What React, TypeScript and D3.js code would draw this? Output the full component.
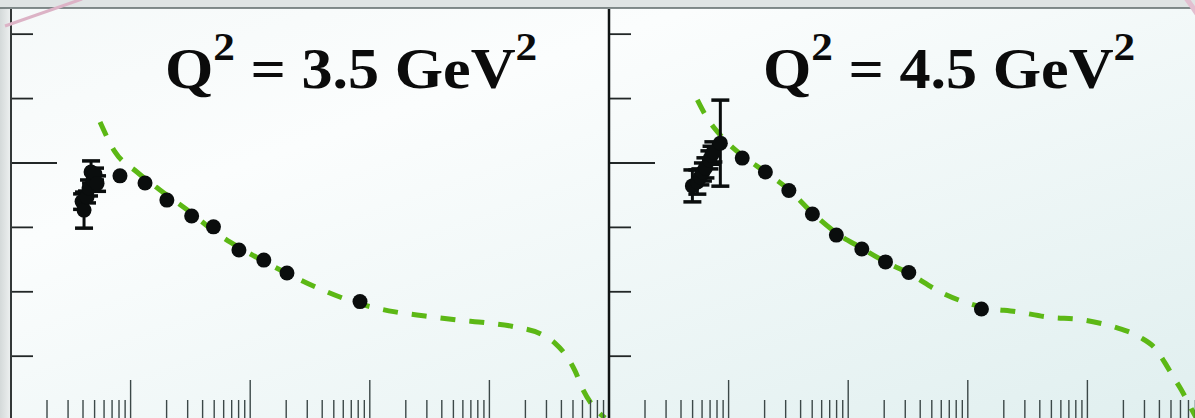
import React, { useEffect, useRef } from "react";
import { select, scaleLog, scaleLinear, line, curveMonotoneX } from "d3";

const WIDTH = 1195;
const HEIGHT = 418;

const q2Labels = ["3.5", "4.5"];
const yTicks = [0.25, 0.5, 0.75, 1.0, 1.25, 1.5];
const yMajorTicks = [1.0];

// Q2 = 3.5 GeV2 measurements
const xData35 = [3.93e-5, 4.08e-5, 4.32e-5, 4.49e-5, 4.67e-5, 4.85e-5, 5.04e-5, 5.24e-5, 8.15e-5, 1.32e-4, 2.01e-4, 3.24e-4, 4.93e-4, 8.05e-4, 1.3e-3, 2.03e-3, 8.28e-3];
const f2Data35 = [0.85, 0.817, 0.868, 0.903, 0.965, 0.934, 0.957, 0.92, 0.95, 0.922, 0.856, 0.794, 0.752, 0.662, 0.623, 0.573, 0.462];
const errData35 = [0.03, 0.07, 0.023, 0.031, 0.043, 0.027, 0.023, 0.03, 0, 0, 0, 0, 0, 0, 0, 0, 0];

// Q2 = 4.5 GeV2 measurements
const xData45 = [4.98e-5, 5.48e-5, 5.81e-5, 6.1e-5, 6.4e-5, 6.91e-5, 7.2e-5, 7.46e-5, 8.53e-5, 1.3e-4, 2.03e-4, 3.19e-4, 5.02e-4, 7.96e-4, 1.3e-3, 2.05e-3, 3.21e-3, 1.3e-2];
const f2Data45 = [0.911, 0.926, 0.946, 0.965, 0.981, 1.012, 1.03, 1.043, 1.077, 1.019, 0.965, 0.893, 0.802, 0.72, 0.666, 0.616, 0.575, 0.433];
const errData45 = [0.062, 0.047, 0.031, 0.035, 0.039, 0.035, 0.035, 0.039, 0.167, 0, 0, 0, 0, 0, 0, 0, 0, 0];

// fit curves
const xCurve35 = [5.55e-5, 7.41e-5, 1.13e-4, 1.76e-4, 3.14e-4, 5.08e-4, 8.22e-4, 1.33e-3, 2.15e-3, 3.84e-3, 8.28e-3, 0.0163, 0.029, 0.0526, 0.0973, 0.167, 0.281, 0.353, 0.446, 0.52, 0.607, 0.735, 0.927];
const f2Curve35 = [1.159, 1.043, 0.965, 0.895, 0.81, 0.732, 0.67, 0.616, 0.566, 0.511, 0.453, 0.422, 0.406, 0.391, 0.379, 0.363, 0.332, 0.301, 0.247, 0.193, 0.119, 0.057, 0.01];
const xCurve45 = [5.48e-5, 6.4e-5, 8.53e-5, 1.28e-4, 2.03e-4, 3.22e-4, 5.02e-4, 7.98e-4, 1.29e-3, 2.05e-3, 3.18e-3, 5.9e-3, 1.3e-2, 0.026, 0.0472, 0.091, 0.168, 0.272, 0.378, 0.441, 0.524, 0.611, 0.726, 0.832];
const f2Curve45 = [1.245, 1.186, 1.108, 1.031, 0.965, 0.895, 0.806, 0.728, 0.67, 0.616, 0.573, 0.499, 0.441, 0.422, 0.402, 0.391, 0.363, 0.325, 0.274, 0.227, 0.169, 0.119, 0.053, 0.002];

const panels = [
  { label: q2Labels[0], xs: xData35, ys: f2Data35, errs: errData35, cx: xCurve35, cy: f2Curve35 },
  { label: q2Labels[1], xs: xData45, ys: f2Data45, errs: errData45, cx: xCurve45, cy: f2Curve45 },
];

const App = () => {
  const svgRef = useRef();

  useEffect(() => {
    const svg = select(svgRef.current);
    svg.selectAll("*").remove();

    const defs = svg.append("defs");
    const grad = defs
      .append("linearGradient")
      .attr("id", "bg")
      .attr("x1", "0")
      .attr("y1", "0")
      .attr("x2", "1")
      .attr("y2", "1");
    grad.append("stop").attr("offset", "0").attr("stop-color", "#f5f9f9");
    grad.append("stop").attr("offset", "0.3").attr("stop-color", "#fbfdfd");
    grad.append("stop").attr("offset", "1").attr("stop-color", "#e0efef");

    const side = defs.append("linearGradient").attr("id", "side");
    side.append("stop").attr("offset", "0").attr("stop-color", "#d4d9d9");
    side.append("stop").attr("offset", "1").attr("stop-color", "#eef1f1");

    // page background
    svg.append("rect").attr("width", WIDTH).attr("height", HEIGHT).attr("fill", "url(#bg)");
    svg.append("rect").attr("width", 11).attr("height", HEIGHT).attr("fill", "url(#side)");
    svg.append("rect").attr("width", WIDTH).attr("height", 8).attr("fill", "#dfe4e4");
    svg
      .append("line")
      .attr("x1", 0)
      .attr("x2", WIDTH)
      .attr("y1", 8)
      .attr("y2", 8)
      .attr("stroke", "#5d6969")
      .attr("stroke-width", 1.5);

    const panelWidth = 598;
    const yScale = scaleLinear().domain([0, 1.6]).range([420.6, 8.4]);

    panels.forEach((p, i) => {
      const left = 11 + i * panelWidth;
      const xScale = scaleLog().domain([1e-5, 1]).range([left, left + panelWidth]);

      defs
        .append("clipPath")
        .attr("id", `clip${i}`)
        .append("rect")
        .attr("x", left)
        .attr("y", 9)
        .attr("width", panelWidth)
        .attr("height", HEIGHT);

      const g = svg.append("g");
      const plot = g.append("g").attr("clip-path", `url(#clip${i})`);

      // x ticks at bottom
      const xTicks = xScale.ticks();
      g.selectAll(".xtick")
        .data(xTicks)
        .join("line")
        .attr("x1", (d) => xScale(d))
        .attr("x2", (d) => xScale(d))
        .attr("y1", 421)
        .attr("y2", (d) => (Math.abs(Math.log10(d) - Math.round(Math.log10(d))) < 1e-6 ? 380 : 400))
        .attr("stroke", "#3c4848")
        .attr("stroke-width", 1.4);

      // y ticks
      g.selectAll(".ytick")
        .data(yTicks)
        .join("line")
        .attr("x1", left)
        .attr("x2", (d) => left + (yMajorTicks.includes(d) ? 46 : 22))
        .attr("y1", (d) => yScale(d))
        .attr("y2", (d) => yScale(d))
        .attr("stroke", "#222727")
        .attr("stroke-width", 1.8);

      // frame
      g.append("line")
        .attr("x1", left)
        .attr("x2", left)
        .attr("y1", 9)
        .attr("y2", HEIGHT)
        .attr("stroke", i === 0 ? "#333838" : "#101414")
        .attr("stroke-width", i === 0 ? 2 : 2.5);

      // fit curve
      const curve = line()
        .x((d) => xScale(d[0]))
        .y((d) => yScale(d[1]))
        .curve(curveMonotoneX);
      plot
        .append("path")
        .datum(p.cx.map((x, k) => [x, p.cy[k]]))
        .attr("d", curve)
        .attr("fill", "none")
        .attr("stroke", "#5cb815")
        .attr("stroke-width", 5)
        .attr("stroke-dasharray", "15 14");

      const pts = p.xs.map((x, k) => ({ x, y: p.ys[k], e: p.errs[k] }));
      const withErr = pts.filter((d) => d.e > 0);

      // error bars
      plot
        .selectAll(".ebar")
        .data(withErr)
        .join("line")
        .attr("x1", (d) => xScale(d.x))
        .attr("x2", (d) => xScale(d.x))
        .attr("y1", (d) => yScale(d.y - d.e))
        .attr("y2", (d) => yScale(d.y + d.e))
        .attr("stroke", "#0a0d0d")
        .attr("stroke-width", 3);
      [-1, 1].forEach((s) => {
        plot
          .selectAll(`.cap${s}`)
          .data(withErr)
          .join("line")
          .attr("x1", (d) => xScale(d.x) - 9)
          .attr("x2", (d) => xScale(d.x) + 9)
          .attr("y1", (d) => yScale(d.y + s * d.e))
          .attr("y2", (d) => yScale(d.y + s * d.e))
          .attr("stroke", "#0a0d0d")
          .attr("stroke-width", 3.5);
      });

      plot
        .selectAll(".dot")
        .data(pts)
        .join("circle")
        .attr("cx", (d) => xScale(d.x))
        .attr("cy", (d) => yScale(d.y))
        .attr("r", 7.5)
        .attr("fill", "#0a0d0d");

      // title, stretched horizontally like the slide
      const title = g
        .append("text")
        .attr("transform", `translate(${left + 154},88) scale(1.11,1)`)
        .attr("font-family", "'Liberation Serif', 'Times New Roman', serif")
        .attr("font-weight", "bold")
        .attr("font-size", 56)
        .attr("fill", "#0b0b0b");
      title.append("tspan").text("Q");
      title.append("tspan").attr("font-size", 39).attr("dy", -28).text("2");
      title.append("tspan").attr("dy", 28).text(` = ${p.label} GeV`);
      title.append("tspan").attr("font-size", 39).attr("dy", -28).text("2");
    });

    // pink slide strokes in the corners
    svg
      .append("line")
      .attr("x1", 5)
      .attr("y1", 26)
      .attr("x2", 82)
      .attr("y2", -1)
      .attr("stroke", "#dcb3c6")
      .attr("stroke-width", 3);
    svg
      .append("path")
      .attr("d", "M1186,-2 Q1192,6 1197,14")
      .attr("fill", "none")
      .attr("stroke", "#e2bfd0")
      .attr("stroke-width", 5);
  }, []);

  return (
    <svg
      ref={svgRef}
      width={WIDTH}
      height={HEIGHT}
      style={{ position: "absolute", left: 0, top: 0, display: "block" }}
    />
  );
};

export default App;
